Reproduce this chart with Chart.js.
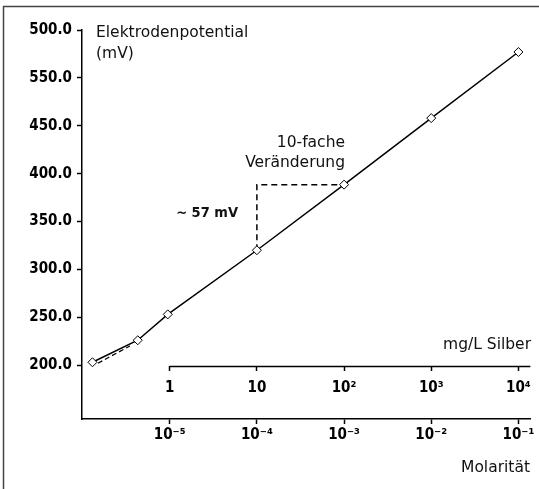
<!DOCTYPE html>
<html>
<head>
<meta charset="utf-8">
<script src="https://cdn.jsdelivr.net/npm/chart.js@4.4.1/dist/chart.umd.min.js"></script>
<style>
  html, body { margin: 0; padding: 0; background: #fff; }
  #wrap { position: relative; width: 539px; height: 489px; }
</style>
</head>
<body>
<div id="wrap"><canvas id="chart"></canvas></div>
<script>
// Messwerte (x in mg/L Silber, y in mV)
const silberMgL = [0.13, 0.43, 0.95, 10, 100, 1000, 10000];
const potentialMV = [203, 226, 253, 320, 388.5, 458, 527];
// gestrichelte Anfangsgerade
const startMgL = [0.15, 0.35];
const startMV = [202, 220];

const yTicks = [200, 250, 300, 350, 400, 450, 500, 550];
const yTickLabels = ['200.0', '250.0', '300.0', '350.0', '400.0', '450.0', '550.0', '500.0'];
const mgTicks = [1, 10, 100, 1000, 10000];
const mgTickLabels = ['1', '10', '10²', '10³', '10⁴'];
const molTicks = [1e-5, 1e-4, 1e-3, 1e-2, 1e-1];
const molTickLabels = ['10⁻⁵', '10⁻⁴', '10⁻³', '10⁻²', '10⁻¹'];

const boldFamily = "'Liberation Sans Narrow', 'DejaVu Sans Condensed', 'DejaVu Sans'";
const boldFont = { family: boldFamily, weight: 'bold', size: 15 };
const textFont = "15.5px 'DejaVu Sans'";
const mgAxisAt = 199;

const pts = silberMgL.map((x, i) => ({ x, y: potentialMV[i] }));
// Steigung pro Dekade: von 10 auf 100 mg/L
const stepLine = [
  { x: silberMgL[3], y: potentialMV[3] },
  { x: silberMgL[3], y: potentialMV[4] },
  { x: silberMgL[4], y: potentialMV[4] }
];

const extras = {
  id: 'extras',
  afterDraw(chart) {
    const { ctx, scales } = chart;
    const mg = scales.mg, y = scales.y;
    ctx.save();
    // Rahmen
    ctx.strokeStyle = '#444';
    ctx.lineWidth = 1.5;
    ctx.beginPath();
    ctx.moveTo(3.5, 489);
    ctx.lineTo(3.5, 6.5);
    ctx.lineTo(539, 6.5);
    ctx.stroke();
    // mg/L-Achsenlinie ab 1
    const ay = Math.round(y.getPixelForValue(mgAxisAt)) + 0.5;
    ctx.strokeStyle = '#000';
    ctx.lineWidth = 1.5;
    ctx.beginPath();
    ctx.moveTo(mg.getPixelForValue(mgTicks[0]), ay);
    ctx.lineTo(mg.right, ay);
    ctx.stroke();

    ctx.fillStyle = '#111';
    ctx.textBaseline = 'middle';
    ctx.font = textFont;
    ctx.textAlign = 'left';
    ctx.fillText('Elektrodenpotential', 96, 33);
    ctx.fillText('(mV)', 96, 54);
    ctx.textAlign = 'right';
    ctx.fillText('10-fache', 345, 143);
    ctx.fillText('Veränderung', 345, 163);
    ctx.fillText('mg/L Silber', 531, 345);
    ctx.fillText('Molarität', 530, 468);
    ctx.font = 'bold 14.5px ' + boldFamily;
    ctx.fillText('~ 57 mV', 238, 213);
    ctx.restore();
  }
};

new Chart(document.getElementById('chart'), {
  type: 'line',
  data: {
    datasets: [
      {
        data: pts,
        xAxisID: 'mg',
        borderColor: '#000',
        borderWidth: 1.5,
        pointStyle: 'rectRot',
        pointRadius: 4.5,
        pointBackgroundColor: '#fff',
        pointBorderColor: '#000',
        pointBorderWidth: 1,
        tension: 0
      },
      {
        data: startMgL.map((x, i) => ({ x, y: startMV[i] })),
        xAxisID: 'mg',
        borderColor: '#000',
        borderWidth: 1.2,
        borderDash: [5, 3],
        pointRadius: 0
      },
      {
        data: stepLine,
        xAxisID: 'mg',
        borderColor: '#000',
        borderWidth: 1.5,
        borderDash: [6, 4],
        pointRadius: 0
      }
    ]
  },
  options: {
    responsive: true,
    maintainAspectRatio: false,
    animation: false,
    layout: { padding: { left: 0, top: 30, right: 7, bottom: 0 } },
    plugins: { legend: { display: false }, tooltip: { enabled: false } },
    scales: {
      x: {
        type: 'logarithmic',
        position: 'bottom',
        min: Math.pow(10, -6.006),
        max: Math.pow(10, -0.863),
        afterBuildTicks: s => { s.ticks = molTicks.map(v => ({ value: v })); },
        afterFit: s => { s.height = 70; },
        grid: { drawOnChartArea: false, tickLength: 5, tickColor: '#000', tickWidth: 1.5 },
        border: { color: '#000', width: 1.5 },
        ticks: {
          color: '#000',
          font: boldFont,
          padding: 2,
          maxRotation: 0,
          autoSkip: false,
          callback: (v, i) => molTickLabels[i]
        }
      },
      mg: {
        type: 'logarithmic',
        position: { y: mgAxisAt },
        min: Math.pow(10, -1.006),
        max: Math.pow(10, 4.137),
        afterBuildTicks: s => { s.ticks = mgTicks.map(v => ({ value: v })); },
        grid: { drawOnChartArea: false, tickLength: 5, tickColor: '#000', tickWidth: 1.5 },
        border: { display: false },
        ticks: {
          color: '#000',
          font: boldFont,
          padding: 8,
          maxRotation: 0,
          autoSkip: false,
          callback: (v, i) => mgTickLabels[i]
        }
      },
      y: {
        type: 'linear',
        min: 143.75,
        max: 550,
        afterBuildTicks: s => { s.ticks = yTicks.map(v => ({ value: v })); },
        afterFit: s => { s.width = 82; },
        grid: { drawOnChartArea: false, tickLength: 5, tickColor: '#000', tickWidth: 1.5 },
        border: { color: '#000', width: 1.5 },
        ticks: {
          color: '#000',
          font: boldFont,
          padding: 5,
          autoSkip: false,
          callback: (v, i) => yTickLabels[i]
        }
      }
    }
  },
  plugins: [extras]
});
</script>
</body>
</html>
